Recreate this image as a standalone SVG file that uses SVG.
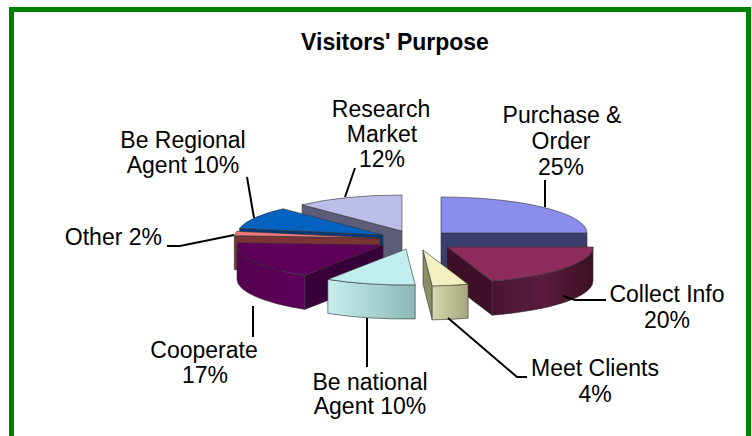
<svg xmlns="http://www.w3.org/2000/svg" width="752" height="436" viewBox="0 0 752 436">
<defs>
<style>
.lbl{font-family:"Liberation Sans",Arial,sans-serif;font-size:23px;fill:#000;text-anchor:middle}
.ttl{font-family:"Liberation Sans",Arial,sans-serif;font-size:23px;font-weight:bold;fill:#000;text-anchor:middle}
.ldr{fill:none;stroke:#000;stroke-width:2}
.edge{stroke:#333;stroke-width:0.6;stroke-linejoin:round}
</style>
<linearGradient id="gCollect" x1="0" y1="0" x2="1" y2="0">
<stop offset="0" stop-color="#4a1430"/><stop offset="0.5" stop-color="#5a1c3c"/><stop offset="1" stop-color="#3c1024"/>
</linearGradient>
<linearGradient id="gNational" x1="0" y1="0" x2="1" y2="0">
<stop offset="0" stop-color="#c8eeee"/><stop offset="1" stop-color="#8cb8b8"/>
</linearGradient>
<linearGradient id="gMeet" x1="0" y1="0" x2="1" y2="0">
<stop offset="0" stop-color="#d8d8ac"/><stop offset="1" stop-color="#a6a67e"/>
</linearGradient>
<linearGradient id="gCoop" x1="0" y1="0" x2="1" y2="0">
<stop offset="0" stop-color="#540050"/><stop offset="1" stop-color="#5e005a"/>
</linearGradient>
</defs>
<rect x="0" y="0" width="752" height="436" fill="#fff"/>
<rect x="11.5" y="9.5" width="737" height="440" fill="none" stroke="#008000" stroke-width="5"/>
<text class="ttl" x="395" y="50">Visitors' Purpose</text>

<g id="research-market">
<path class="edge" d="M402,231 L302.1,204.8 L302.1,238.8 L402,265 Z" fill="#5d5d7a"/>
<path class="edge" d="M402,231 L302.1,204.8 A146,36 0 0 1 402,195 Z" fill="#bdbde9"/>
<text class="lbl" x="381" y="117">Research</text>
<text class="lbl" x="382" y="142">Market</text>
<text class="lbl" x="382" y="167">12%</text>
</g>

<g id="purchase-order">
<path class="edge" d="M441,233 L587,233 L587,267 L441,267 Z" fill="#3b3f6b"/>
<path class="edge" d="M441,233 L441,197 A146,36 0 0 1 587,233 Z" fill="#8b8ded"/>
<text class="lbl" x="562" y="123">Purchase &amp;</text>
<text class="lbl" x="561" y="149">Order</text>
<text class="lbl" x="561" y="175">25%</text>
</g>

<g id="be-regional-agent">
<path class="edge" d="M383,235 L239.6,228.3 L239.6,262.3 L383,269 Z" fill="#003a7a"/>
<path class="edge" d="M383,235 L239.6,228.3 A146,36 0 0 1 283.1,208.8 Z" fill="#0562c0"/>
<text class="lbl" x="183" y="148">Be Regional</text>
<text class="lbl" x="183" y="173">Agent 10%</text>
</g>

<g id="other">
<path class="edge" d="M380,238 L234.3,235.7 L234.3,269.7 L380,272 Z" fill="#7a3434"/>
<path class="edge" d="M380,238 L234.3,235.7 A146,36 0 0 1 236.6,231.3 Z" fill="#f07878"/>
<text class="lbl" x="162" y="245" style="text-anchor:end">Other 2%</text>
</g>

<g id="cooperate">
<path class="edge" d="M383,245 L304.8,275.4 L304.8,309.4 L383,279 Z" fill="#38003a"/>
<path class="edge" d="M304.8,275.4 A146,36 0 0 1 237,245 L237,279 A146,36 0 0 0 304.8,309.4 Z" fill="url(#gCoop)"/>
<path class="edge" d="M383,245 L304.8,275.4 A146,36 0 0 1 237.3,242.7 Z" fill="#5e005a"/>
<text class="lbl" x="204" y="358">Cooperate</text>
<text class="lbl" x="205" y="383">17%</text>
</g>

<g id="collect-info">
<path class="edge" d="M447,247 L492.1,281.2 L492.1,315.2 L447,281 Z" fill="#3e1028"/>
<path class="edge" d="M593,247 A146,36 0 0 1 492.1,281.2 L492.1,315.2 A146,36 0 0 0 593,281 Z" fill="url(#gCollect)"/>
<path class="edge" d="M447,247 L593,247 A146,36 0 0 1 492.1,281.2 Z" fill="#8e2c5c"/>
<text class="lbl" x="667" y="302">Collect Info</text>
<text class="lbl" x="667" y="328">20%</text>
</g>

<g id="be-national-agent">
<path class="edge" d="M415.2,284.9 A146,36 0 0 1 327.8,279.4 L327.8,313.4 A146,36 0 0 0 415.2,318.9 Z" fill="url(#gNational)"/>
<path class="edge" d="M406,249 L415.2,284.9 A146,36 0 0 1 327.8,279.4 Z" fill="#c0eeee"/>
<text class="lbl" x="370" y="390">Be national</text>
<text class="lbl" x="370" y="414">Agent 10%</text>
</g>

<g id="meet-clients">
<path class="edge" d="M423,250 L432.2,285.9 L432.2,319.9 L423,284 Z" fill="#8e8e66"/>
<path class="edge" d="M468.1,284.2 A146,36 0 0 1 432.2,285.9 L432.2,319.9 A146,36 0 0 0 468.1,318.2 Z" fill="url(#gMeet)"/>
<path class="edge" d="M423,250 L468.1,284.2 A146,36 0 0 1 432.2,285.9 Z" fill="#f2f0c0"/>
<text class="lbl" x="595" y="376">Meet Clients</text>
<text class="lbl" x="595" y="402">4%</text>
</g>

<g id="connectors">
<path class="ldr" d="M545,180 L545,207"/>
<path class="ldr" d="M563,296 L575,300 L606,300"/>
<path class="ldr" d="M448,318 L517,377 L527,377"/>
<path class="ldr" d="M367,318 L367,367"/>
<path class="ldr" d="M253,306 L253,337"/>
<path class="ldr" d="M167,246 L180,246 L234,235"/>
<path class="ldr" d="M247,177 L254,218"/>
<path class="ldr" d="M345,197 L355,168"/>
</g>
</svg>
